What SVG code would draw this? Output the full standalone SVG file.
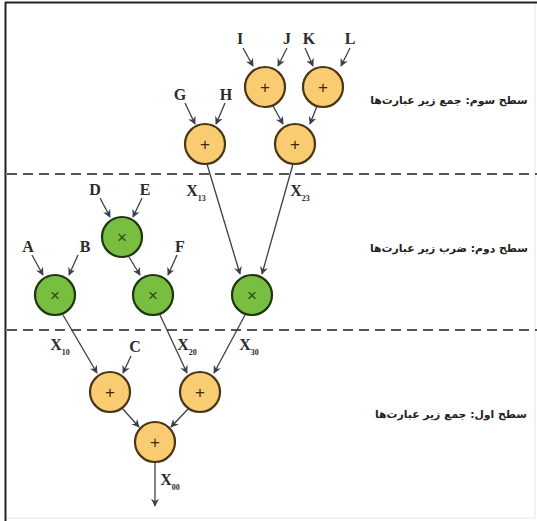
<svg xmlns="http://www.w3.org/2000/svg" width="537" height="521" viewBox="0 0 537 521">
  <style>
    .add { fill: #F9CC72; stroke: #4a3518; stroke-width: 2.2; }
    .mul { fill: #78BE41; stroke: #1e3510; stroke-width: 2.2; }
    .op { font-family: "Liberation Sans", sans-serif; font-size: 17px; text-anchor: middle; fill: #3a2a10; }
    .opm { font-family: "Liberation Sans", sans-serif; font-size: 17px; text-anchor: middle; fill: #2a4a18; }
    .lbl { font-family: "Liberation Serif", serif; font-weight: bold; font-size: 16px; text-anchor: middle; fill: #2b2b2b; }
    .sub { font-family: "Liberation Serif", serif; font-weight: bold; font-size: 8px; fill: #2b2b2b; }
    .lvl { font-family: "DejaVu Sans", sans-serif; font-weight: bold; font-size: 10.8px; text-anchor: middle; fill: #222; }
    .edge { stroke: #3a3f4a; stroke-width: 1.3; fill: none; marker-end: url(#arr); }
    .dash { stroke: #555; stroke-width: 2; stroke-dasharray: 10 6; }
  </style>
  <defs>
    <marker id="arr" viewBox="0 0 10 10" refX="9" refY="5" markerWidth="8" markerHeight="8" markerUnits="userSpaceOnUse" orient="auto">
      <path d="M0,0 L10,5 L0,10 L3,5 z" fill="#3a3f4a"/>
    </marker>
  </defs>

  <!-- frame -->
  <rect x="0" y="0" width="537" height="521" fill="#ffffff"/>
  <rect x="5.5" y="2.5" width="529.5" height="515.5" fill="none" stroke="#e4e4e4" stroke-width="1"/>
  <line x1="5.5" y1="2" x2="5.5" y2="521" stroke="#222" stroke-width="2"/>
  <line x1="5" y1="2.5" x2="537" y2="2.5" stroke="#222" stroke-width="2"/>

  <!-- level separators -->
  <line class="dash" x1="7" y1="174" x2="537" y2="174"/>
  <line class="dash" x1="7" y1="330" x2="537" y2="330"/>

  <!-- level captions -->
  <text class="lvl" x="449" y="104" direction="rtl">سطح سوم: جمع زیر عبارت‌ها</text>
  <text class="lvl" x="449" y="252" direction="rtl">سطح دوم: ضرب زیر عبارت‌ها</text>
  <text class="lvl" x="451" y="418" direction="rtl">سطح اول: جمع زیر عبارت‌ها</text>

  <!-- connectors -->
  <g id="connectors">
    <line class="edge" x1="243" y1="48" x2="253" y2="66"/>
    <line class="edge" x1="287" y1="48" x2="278" y2="66"/>
    <line class="edge" x1="305" y1="48" x2="313" y2="66"/>
    <line class="edge" x1="350" y1="48" x2="341" y2="66"/>
    <line class="edge" x1="273" y1="106" x2="283" y2="124"/>
    <line class="edge" x1="317" y1="106" x2="310" y2="124"/>
    <line class="edge" x1="185" y1="103" x2="195" y2="124"/>
    <line class="edge" x1="225" y1="103" x2="216" y2="124"/>
    <line class="edge" x1="207" y1="164" x2="240" y2="274"/>
    <line class="edge" x1="293" y1="164" x2="262" y2="274"/>
    <line class="edge" x1="100" y1="198" x2="110" y2="217"/>
    <line class="edge" x1="142" y1="198" x2="133" y2="217"/>
    <line class="edge" x1="32" y1="255" x2="43" y2="275"/>
    <line class="edge" x1="78" y1="255" x2="69" y2="275"/>
    <line class="edge" x1="129" y1="257" x2="140" y2="275"/>
    <line class="edge" x1="177" y1="255" x2="168" y2="275"/>
    <line class="edge" x1="63" y1="315" x2="97" y2="373"/>
    <line class="edge" x1="131" y1="356" x2="123" y2="373"/>
    <line class="edge" x1="160" y1="315" x2="187" y2="373"/>
    <line class="edge" x1="245" y1="315" x2="214" y2="373"/>
    <line class="edge" x1="122" y1="408" x2="139" y2="427"/>
    <line class="edge" x1="189" y1="408" x2="171" y2="427"/>
    <line class="edge" x1="155" y1="462" x2="155" y2="506"/>
  </g>

  <!-- input labels -->
  <text class="lbl" x="240" y="44">I</text>
  <text class="lbl" x="287" y="44">J</text>
  <text class="lbl" x="309" y="44">K</text>
  <text class="lbl" x="350" y="44">L</text>
  <text class="lbl" x="180" y="100">G</text>
  <text class="lbl" x="226" y="100">H</text>
  <text class="lbl" x="95" y="195">D</text>
  <text class="lbl" x="145" y="195">E</text>
  <text class="lbl" x="28" y="252">A</text>
  <text class="lbl" x="85" y="252">B</text>
  <text class="lbl" x="180" y="252">F</text>
  <text class="lbl" x="135" y="352">C</text>

  <!-- intermediate result labels -->
  <text class="lbl" x="196" y="196">X<tspan class="sub" dy="5">13</tspan></text>
  <text class="lbl" x="300" y="196">X<tspan class="sub" dy="5">23</tspan></text>
  <text class="lbl" x="60" y="350">X<tspan class="sub" dy="5">10</tspan></text>
  <text class="lbl" x="187" y="350">X<tspan class="sub" dy="5">20</tspan></text>
  <text class="lbl" x="249" y="350">X<tspan class="sub" dy="5">30</tspan></text>
  <text class="lbl" x="170" y="485">X<tspan class="sub" dy="5">00</tspan></text>

  <!-- level 3: sums -->
  <g id="addIJ"><circle class="add" cx="265" cy="87" r="20"/><text class="op" x="265" y="93">+</text></g>
  <g id="addKL"><circle class="add" cx="323" cy="87" r="20"/><text class="op" x="323" y="93">+</text></g>
  <g id="addGH"><circle class="add" cx="205" cy="144" r="20"/><text class="op" x="205" y="150">+</text></g>
  <g id="addIJKL"><circle class="add" cx="295" cy="144" r="20"/><text class="op" x="295" y="150">+</text></g>

  <!-- level 2: products -->
  <g id="mulDE"><circle class="mul" cx="122" cy="237" r="20"/><text class="opm" x="122" y="243">×</text></g>
  <g id="mulAB"><circle class="mul" cx="55" cy="295" r="20"/><text class="opm" x="55" y="301">×</text></g>
  <g id="mulF"><circle class="mul" cx="153" cy="295" r="20"/><text class="opm" x="153" y="301">×</text></g>
  <g id="mulX"><circle class="mul" cx="252" cy="295" r="20"/><text class="opm" x="252" y="301">×</text></g>

  <!-- level 1: sums -->
  <g id="addC"><circle class="add" cx="110" cy="392" r="20"/><text class="op" x="110" y="398">+</text></g>
  <g id="addM"><circle class="add" cx="200" cy="392" r="20"/><text class="op" x="200" y="398">+</text></g>
  <g id="addOut"><circle class="add" cx="155" cy="442" r="20"/><text class="op" x="155" y="448">+</text></g>
</svg>
